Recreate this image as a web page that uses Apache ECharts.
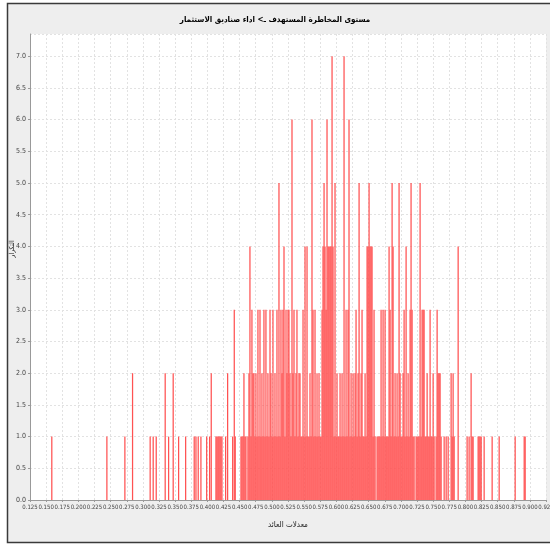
<!DOCTYPE html>
<html>
<head>
<meta charset="utf-8">
<script src="https://cdn.jsdelivr.net/npm/echarts@6/dist/echarts.min.js"></script>
<style>html,body{margin:0;padding:0;background:#fff}#c{width:550px;height:547px}</style>
</head>
<body>
<div id="c"></div>
<script>
// ---- data ----
const chartTitle = 'مستوى المخاطرة المستهدف ـ> اداء صناديق الاستثمار';
const xName = 'معدلات العائد';
const yName = 'التكرار';
const xMin = 0.125, xMax = 0.925, xStep = 0.025;
const yMin = 0, yTop = 7.35, yStep = 0.5;

const returns = [
0.1588,0.2442,0.2721,0.2840,0.3113,0.3160,0.3207,0.3346,0.3399,0.3470,0.3554,0.3663,0.3796,0.3823,0.3858,0.3900,
0.3989,0.4035,0.4060,0.4133,0.4148,0.4164,0.4179,0.4195,0.4210,0.4226,0.4283,0.4314,0.4392,0.4417,0.4432,
0.4521,0.4536,0.4552,0.4567,0.4583,0.4598,0.4629,0.4645,
0.4660,0.4676,0.4691,0.4707,0.4722,0.4738,0.4753,0.4769,0.4784,0.4800,
0.4816,0.4831,0.4846,0.4862,0.4877,0.4893,0.4908,0.4924,0.4939,0.4955,
0.4971,0.4986,0.5002,0.5017,0.5033,0.5048,0.5064,0.5079,0.5095,0.5110,
0.5126,0.5141,0.5157,0.5172,0.5188,0.5203,0.5219,0.5234,0.5250,0.5265,
0.5281,0.5296,0.5312,0.5327,0.5343,0.5358,0.5374,0.5389,0.5405,0.5420,
0.5436,0.5452,0.5467,0.5483,0.5498,0.5514,0.5529,0.5545,0.5560,0.5576,
0.5591,0.5607,0.5622,0.5638,0.5653,0.5669,0.5684,0.5700,0.5715,0.5731,
0.5747,0.5762,0.5778,0.5793,0.5809,0.5824,0.5840,0.5855,0.5871,0.5886,
0.5902,0.5917,0.5933,0.5948,0.5964,0.5979,0.5995,0.6010,0.6026,0.6041,
0.6057,0.6072,0.6088,0.6103,0.6119,0.6134,0.6150,0.6165,0.6181,0.6196,
0.6212,0.6228,0.6243,0.6259,0.6274,0.6290,0.6305,0.6321,0.6336,0.6352,
0.6367,0.6383,0.6398,0.6414,0.6429,0.6445,0.6460,0.6476,0.6491,0.6507,
0.6522,0.6538,0.6553,0.6569,0.6584,0.6600,0.6631,0.6646,0.6662,
0.6677,0.6693,0.6708,0.6724,0.6739,0.6755,0.6771,0.6786,0.6802,0.6817,
0.6833,0.6848,0.6864,0.6879,0.6895,0.6910,0.6926,0.6941,0.6957,0.6972,
0.6988,0.7003,0.7019,0.7034,0.7050,0.7065,0.7081,0.7096,0.7112,0.7127,
0.7143,0.7158,0.7174,0.7189,0.7205,0.7236,0.7251,0.7267,0.7282,
0.7298,0.7314,0.7329,0.7345,0.7360,0.7376,0.7391,0.7407,0.7422,0.7438,
0.7453,0.7469,0.7484,0.7500,0.7515,0.7546,0.7562,0.7577,0.7593,
0.7608,0.7624,0.7671,0.7702,0.7733,
0.7779,0.7795,0.7810,0.7826,0.7888,
0.8027,0.8058,0.8089,0.8105,0.8120,0.8198,0.8213,0.8229,0.8245,0.8291,
0.8415,0.8524,0.8772,0.8912,0.8927
];
const freq = [
1,1,1,2,1,1,1,2,1,2,1,1,1,1,1,1,
1,1,2,1,1,1,1,1,1,1,1,2,1,3,1,
1,1,1,2,1,1,1,2,
4,1,3,2,2,1,2,1,3,1,
3,1,2,1,3,1,3,1,2,1,
3,2,1,3,1,2,1,3,1,5,
1,3,2,3,4,1,3,2,3,3,
2,1,6,2,3,1,2,3,1,2,
2,1,1,3,1,4,1,4,1,1,
2,1,6,3,1,3,1,2,1,2,
1,1,3,4,5,4,3,6,4,4,
4,4,7,4,1,5,1,2,1,1,
2,1,2,1,7,1,3,1,3,6,
1,2,1,2,1,2,3,1,2,5,
1,2,3,1,1,2,1,4,4,5,
4,4,4,1,3,1,1,1,1,
1,3,1,3,1,3,1,1,1,4,
3,1,5,4,1,2,1,2,1,5,
2,1,1,2,3,1,4,1,2,1,
3,5,3,1,1,1,1,1,1,
5,1,3,3,3,1,1,2,1,1,
3,1,1,2,1,1,3,2,2,
2,1,1,1,1,
2,1,2,1,4,
1,1,2,1,1,1,1,1,1,1,
1,1,1,1,1
];

const chart = echarts.init(document.getElementById('c'), null, {renderer: 'canvas'});
const labelFont = "'DejaVu Sans Condensed','DejaVu Sans',sans-serif";
const arFont = "'DejaVu Sans Condensed','DejaVu Sans',sans-serif";
chart.setOption({
  backgroundColor: '#ffffff',
  animation: false,
  graphic: [{
    type: 'rect', z: -100, silent: true,
    shape: {x: 7.5, y: 3.5, width: 560, height: 539},
    style: {fill: '#eeeeee', stroke: '#3a3a3a', lineWidth: 1.5}
  }, {
    type: 'text', silent: true, x: 12, y: 249, rotation: Math.PI / 2,
    style: {text: yName, fill: '#222', font: '7px ' + arFont, align: 'center', verticalAlign: 'middle'}
  }],
  title: {
    text: chartTitle, left: 270, textAlign: 'center', top: 11,
    textStyle: {fontSize: 8, fontWeight: 'bold', color: '#000', fontFamily: arFont}
  },
  grid: {left: 30, right: 4, top: 34, bottom: 47, show: true, backgroundColor: '#ffffff', borderWidth: 0,
    containLabel: false, outerBoundsMode: 'none'},
  xAxis: {
    type: 'value', min: xMin, max: xMax, interval: xStep,
    name: xName, nameLocation: 'middle', nameGap: 21,
    nameTextStyle: {fontSize: 8, color: '#222', fontFamily: arFont},
    axisLine: {show: true, lineStyle: {color: '#999', width: 1}},
    axisTick: {show: true, length: 2, lineStyle: {color: '#999'}},
    axisLabel: {fontSize: 6, color: '#444', margin: 4, fontFamily: labelFont, hideOverlap: false,
      showMinLabel: true, showMaxLabel: true, formatter: v => v.toFixed(3)},
    splitLine: {show: true, lineStyle: {color: '#e2e2e2', type: [2, 2], width: 1}}
  },
  yAxis: {
    type: 'value', min: yMin, max: yTop, interval: yStep,
    axisLine: {show: true, lineStyle: {color: '#999', width: 1}},
    axisTick: {show: true, length: 2, lineStyle: {color: '#999'}},
    axisLabel: {fontSize: 7, color: '#444', margin: 4, fontFamily: labelFont, showMaxLabel: false,
      formatter: v => v.toFixed(1)},
    splitLine: {show: true, lineStyle: {color: '#e2e2e2', type: [2, 2], width: 1}}
  },
  series: [{
    type: 'bar',
    data: returns.map((r, i) => [r, freq[i]]),
    barWidth: 1.25,
    itemStyle: {color: '#ff5252'},
    silent: true
  }]
});
</script>
</body>
</html>
